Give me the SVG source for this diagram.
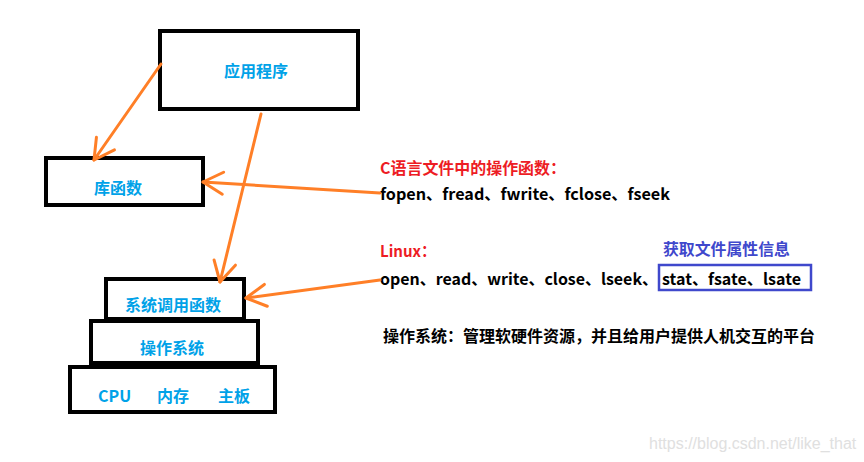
<svg xmlns="http://www.w3.org/2000/svg" width="864" height="462" viewBox="0 0 864 462">
<style>
.box{fill:#fff;stroke:#000;stroke-width:4}
.lbl{font-family:"Noto Sans CJK SC","Microsoft YaHei",sans-serif;font-weight:bold;font-size:16px;fill:#00A2E8}
.blk{font-family:"Noto Sans CJK SC",sans-serif;font-weight:bold;font-size:16px;fill:#000}
.red{font-family:"Noto Sans CJK SC",sans-serif;font-weight:bold;font-size:16px;fill:#ED1C24}
.blu{font-family:"Noto Sans CJK SC",sans-serif;font-weight:bold;font-size:16px;fill:#3F48CC}
.conn{stroke:#FF7F27;stroke-width:3;fill:none;stroke-linecap:round;marker-end:url(#ah)}
.wm{font-family:"Liberation Sans",Arial,sans-serif;font-size:16px;fill:#E0E0E0}
</style>
<defs>
<marker id="ah" markerUnits="userSpaceOnUse" markerWidth="30" markerHeight="30" refX="0" refY="0" viewBox="-25 -15 30 30" orient="auto" overflow="visible">
<path d="M-20,-11 L0,0 L-20,11" fill="none" stroke="#FF7F27" stroke-width="3" stroke-linecap="round" stroke-linejoin="round"/>
</marker>
</defs>
<rect width="864" height="462" fill="#fff"/>
<g id="app">
<rect class="box" x="160" y="31" width="198" height="78"/>
<text class="lbl" x="256" y="77" text-anchor="middle">应用程序</text>
</g>
<g id="lib">
<rect class="box" x="46" y="158" width="157" height="47"/>
<text class="lbl" x="118" y="194" text-anchor="middle">库函数</text>
</g>
<g id="syscall">
<rect class="box" x="106" y="279" width="138" height="40"/>
<text class="lbl" x="173" y="311" text-anchor="middle">系统调用函数</text>
</g>
<g id="os">
<rect class="box" x="91" y="321" width="167" height="42"/>
<text class="lbl" x="172" y="354" text-anchor="middle">操作系统</text>
</g>
<g id="hw">
<rect class="box" x="70" y="367" width="205" height="45"/>
<text class="lbl" x="98" y="402">CPU</text>
<text class="lbl" x="157" y="402">内存</text>
<text class="lbl" x="218" y="402">主板</text>
</g>
<g id="cfuncs">
<text class="red" x="380" y="174" textLength="186" lengthAdjust="spacingAndGlyphs">C语言文件中的操作函数：</text>
<text class="blk" x="380" y="200" textLength="290" lengthAdjust="spacingAndGlyphs">fopen、fread、fwrite、fclose、fseek</text>
</g>
<g id="linux">
<text class="red" x="380" y="257" textLength="56" lengthAdjust="spacingAndGlyphs">Linux：</text>
<text class="blk" x="380" y="285" textLength="278" lengthAdjust="spacingAndGlyphs">open、read、write、close、lseek、</text>
<text class="blk" x="662" y="285" textLength="139" lengthAdjust="spacingAndGlyphs">stat、fsate、lsate</text>
<rect x="659" y="265" width="152" height="25" fill="none" stroke="#3F48CC" stroke-width="2.5"/>
<text class="blu" x="663" y="255" textLength="127" lengthAdjust="spacingAndGlyphs">获取文件属性信息</text>
</g>
<g id="osdesc">
<text class="blk" x="383" y="342" textLength="432" lengthAdjust="spacingAndGlyphs">操作系统：管理软硬件资源，并且给用户提供人机交互的平台</text>
</g>
<g id="connectors">
<line class="conn" x1="161" y1="64" x2="94" y2="160"/>
<line class="conn" x1="261" y1="114" x2="220" y2="282"/>
<line class="conn" x1="380" y1="193" x2="203" y2="182"/>
<line class="conn" x1="380" y1="280" x2="246" y2="298"/>
</g>
<text class="wm" x="649" y="449">https://blog.csdn.net/like_that</text>
</svg>
